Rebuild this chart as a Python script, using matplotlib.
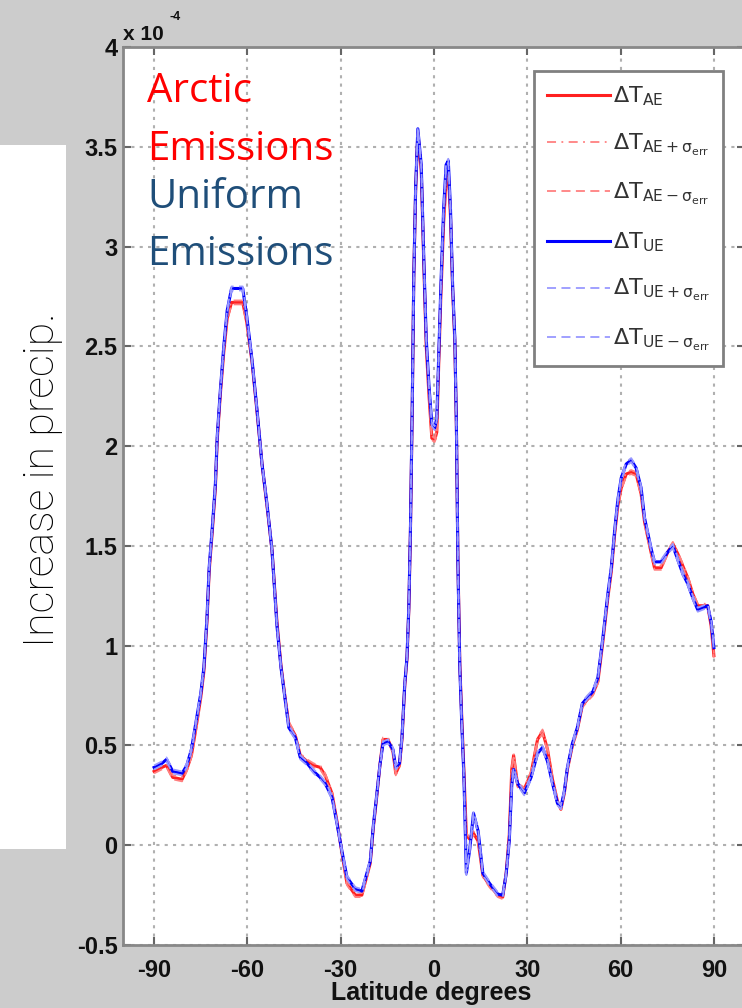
import matplotlib
matplotlib.use("Agg")
import matplotlib.pyplot as plt
from matplotlib.patches import Rectangle

plt.rcParams["axes.unicode_minus"] = False
plt.rcParams["mathtext.default"] = "regular"

# latitude (degrees) and increase in precip (units of 1e-4)
lat = [-90, -87.5, -86, -84, -81, -79.5, -78, -76.5, -75, -74, -73, -72.3, -71.3, -70.3,
       -69.7, -68.7, -67.6, -66.5, -65.1, -61.5, -60.2, -58.5, -56.9, -55.3, -53.7, -52.1,
       -50.5, -49.2, -47.8, -46.7, -44.6, -43, -40.8, -38.7, -36.6, -35, -32.8, -31.2,
       -29.6, -28, -25.3, -23.2, -20.5, -19.5, -18.5, -17.4, -16.4, -14.8, -13.2, -12.3,
       -11.1, -10.3, -9.4, -8.7, -8.1, -7.6, -7.0, -6.5, -5.9, -5.2, -4.1, -3.3, -2.5,
       -1.6, -0.7, 0.2, 0.9, 1.5, 2.2, 3.1, 3.9, 4.6, 5.3, 6.0, 6.7, 7.2, 7.7, 8.3, 8.9,
       9.6, 10.4, 11.5, 12.7, 14.2, 15.7, 17.8, 20.5, 22.1, 23.2, 24.2, 25.0, 25.6, 26.9,
       29, 31.2, 33.3, 34.9, 36.5, 38.1, 39.7, 40.8, 41.9, 42.9, 44.5, 46.1, 47.7, 49.3,
       51.1, 52.7, 54.3, 55.9, 57.0, 58.1, 59.1, 60.2, 61.8, 63.4, 65.0, 66.6, 67.7, 68.8,
       69.9, 70.9, 73.0, 75.2, 76.8, 78.4, 80.0, 81.6, 83.2, 84.8, 86.4, 88.0, 89.1, 90.0]

dT_ue = [0.39, 0.41, 0.43, 0.37, 0.36, 0.40, 0.48, 0.62, 0.76, 0.89, 1.14, 1.39, 1.59, 1.81,
         2.05, 2.28, 2.50, 2.68, 2.79, 2.79, 2.65, 2.43, 2.18, 1.91, 1.71, 1.48,
         1.10, 0.89, 0.72, 0.59, 0.54, 0.44, 0.41, 0.37, 0.34, 0.31, 0.24, 0.11,
         -0.03, -0.16, -0.22, -0.23, -0.08, 0.10, 0.24, 0.40, 0.51, 0.52, 0.48, 0.39,
         0.41, 0.54, 0.81, 0.94, 1.19, 1.56, 2.20, 2.85, 3.30, 3.59, 3.41, 2.95, 2.54,
         2.30, 2.11, 2.09, 2.14, 2.45, 2.80, 3.19, 3.41, 3.43, 3.19, 2.80, 2.54, 2.11, 1.40, 0.89, 0.62,
         0.35, -0.14, -0.02, 0.16, 0.07, -0.14, -0.19, -0.245, -0.25, -0.145, 0.02, 0.30, 0.38, 0.31,
         0.26, 0.34, 0.46, 0.49, 0.42, 0.31, 0.21, 0.19, 0.27, 0.39, 0.51, 0.59, 0.71, 0.74,
         0.77, 0.84, 1.04, 1.26, 1.39, 1.58, 1.73, 1.84, 1.91, 1.93, 1.89, 1.79, 1.64, 1.56,
         1.48, 1.42, 1.42, 1.47, 1.50, 1.43, 1.36, 1.31, 1.24, 1.18, 1.19, 1.20, 1.12, 0.99]

dT_ae = [0.37, 0.39, 0.40, 0.34, 0.33, 0.38, 0.45, 0.59, 0.74, 0.87, 1.12, 1.37, 1.57, 1.79,
         2.03, 2.26, 2.47, 2.64, 2.72, 2.72, 2.62, 2.42, 2.17, 1.91, 1.70, 1.48,
         1.12, 0.90, 0.73, 0.61, 0.55, 0.45, 0.42, 0.40, 0.39, 0.35, 0.26, 0.12,
         -0.04, -0.19, -0.25, -0.25, -0.09, 0.09, 0.23, 0.40, 0.53, 0.53, 0.47, 0.36,
         0.40, 0.53, 0.80, 0.93, 1.18, 1.55, 2.18, 2.85, 3.28, 3.57, 3.38, 2.92, 2.50,
         2.25, 2.04, 2.03, 2.07, 2.40, 2.75, 3.12, 3.33, 3.37, 3.15, 2.78, 2.52, 2.10, 1.42, 0.91, 0.65,
         0.38, 0.05, 0.03, 0.06, 0.02, -0.15, -0.20, -0.25, -0.26, -0.14, 0.05, 0.38, 0.45, 0.30,
         0.28, 0.36, 0.53, 0.57, 0.48, 0.33, 0.22, 0.18, 0.26, 0.38, 0.50, 0.58, 0.70, 0.73,
         0.76, 0.82, 1.02, 1.24, 1.37, 1.56, 1.70, 1.79, 1.86, 1.87, 1.86, 1.76, 1.62, 1.54,
         1.46, 1.39, 1.39, 1.47, 1.51, 1.46, 1.40, 1.34, 1.26, 1.20, 1.20, 1.20, 1.10, 0.95]

sigma_ae = 0.01
sigma_ue = 0.01

xticks = [-90, -60, -30, 0, 30, 60, 90]
yticks = [-0.5, 0, 0.5, 1, 1.5, 2, 2.5, 3, 3.5, 4]
ytick_labels = ["-0.5", "0", "0.5", "1", "1.5", "2", "2.5", "3", "3.5", "4"]

fig = plt.figure(figsize=(7.42, 10.08), dpi=100, facecolor="#cccccc")
ax = fig.add_axes([123/742, 1-945/1008, 622/742, 898/1008])

# white box behind the y label
fig.patches.append(Rectangle((0, 1-849/1008), 66/742, 704/1008, transform=fig.transFigure,
                             facecolor="white", edgecolor="none", zorder=0))
fig.text(43/742, 1-480/1008, "Increase in precip.", rotation=90, ha="center", va="center",
         fontsize=31, family="Roboto", fontweight="light", color="black")

ae_plus = [v + sigma_ae for v in dT_ae]
ae_minus = [v - sigma_ae for v in dT_ae]
ue_plus = [v + sigma_ue for v in dT_ue]
ue_minus = [v - sigma_ue for v in dT_ue]

ax.plot(lat, dT_ae, color="#ff2020", lw=2.2, label=r"$\Delta T_{AE}$")
ax.plot(lat, ae_plus, color="#ff8080", lw=1.3, ls=(0, (5, 3, 1, 3)), label=r"$\Delta T_{AE+\sigma_{err}}$")
ax.plot(lat, ae_minus, color="#ff8080", lw=1.3, ls=(0, (5, 3)), label=r"$\Delta T_{AE-\sigma_{err}}$")
ax.plot(lat, dT_ue, color="#0000ff", lw=2.2, label=r"$\Delta T_{UE}$")
ax.plot(lat, ue_plus, color="#9999ff", lw=1.3, ls=(0, (5, 3)), label=r"$\Delta T_{UE+\sigma_{err}}$")
ax.plot(lat, ue_minus, color="#9999ff", lw=1.3, ls=(0, (5, 3)), label=r"$\Delta T_{UE-\sigma_{err}}$")

ax.set_xlim(-100, 100)
ax.set_ylim(-0.5, 4)
ax.set_xticks(xticks)
ax.set_yticks(yticks)
ax.set_yticklabels(ytick_labels)
ax.grid(True, color="#b0b0b0", ls=(0, (1.5, 2.5)), lw=1.5)
ax.tick_params(direction="in", length=6, width=1.5, color="#666666", top=True, right=True,
               labelsize=17, labelcolor="#111111")
ax.tick_params(axis="x", pad=10)
ax.tick_params(axis="y", pad=4)
for lab in ax.get_xticklabels() + ax.get_yticklabels():
    lab.set_fontweight("bold")
    lab.set_family("Liberation Sans")
for sp in ax.spines.values():
    sp.set_color("#888888")
    sp.set_linewidth(2)

ax.set_xlabel("Latitude degrees", fontsize=18, fontweight="bold", family="Liberation Sans", color="#111111")
ax.xaxis.set_label_coords(0.495, -0.04)
ax.xaxis.label.set_va("top")

fig.text(123/742, 1-40/1008, "x 10", fontsize=15, fontweight="bold", family="Liberation Sans", color="#111111")
fig.text(170/742, 1-20/1008, "-4", fontsize=9, fontweight="bold", family="Liberation Sans", color="#111111")

# annotations
tx = 147/742
fig.text(tx, 1-102/1008, "Arctic", color="#ff0000", fontsize=29, family="Open Sans")
fig.text(tx, 1-160/1008, "Emissions", color="#ff0000", fontsize=29, family="Open Sans")
fig.text(tx, 1-208/1008, "Uniform", color="#1f4e79", fontsize=29, family="Open Sans")
fig.text(tx, 1-265/1008, "Emissions", color="#1f4e79", fontsize=29, family="Open Sans")

leg = ax.legend(loc="upper left", bbox_to_anchor=(0.661, 0.973), borderaxespad=0, fancybox=False,
                edgecolor="#808080", fontsize=16, handlelength=2.8, labelspacing=1.05,
                framealpha=1, borderpad=0.6, handletextpad=0.15)
leg.get_frame().set_linewidth(2)
for t in leg.get_texts():
    t.set_color("#333333")

fig.savefig("out.png", dpi=100, facecolor=fig.get_facecolor())
